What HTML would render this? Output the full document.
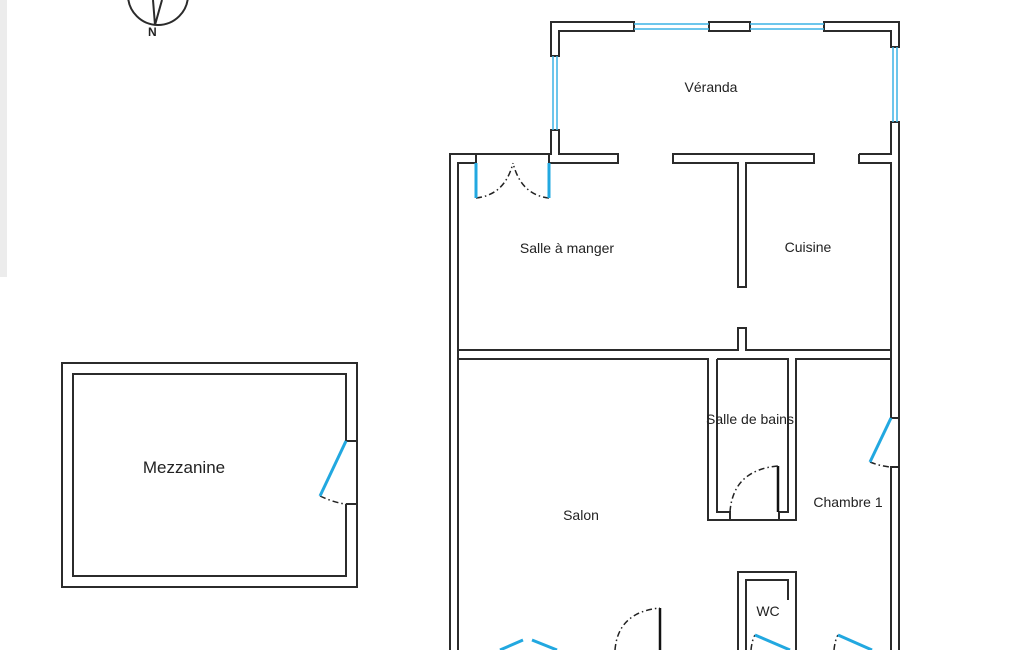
<!DOCTYPE html>
<html><head><meta charset="utf-8"><style>
html,body{margin:0;padding:0;background:#fff;width:1025px;height:650px;overflow:hidden}
svg{display:block}
text{font-family:"Liberation Sans",sans-serif;fill:#222}
</style></head><body>
<svg width="1025" height="650" viewBox="0 0 1025 650" xmlns="http://www.w3.org/2000/svg">
<rect x="0" y="0" width="7" height="277" fill="#ececec"/>
<g fill="none" stroke="#2b2b2b" stroke-width="2">
<circle cx="158" cy="-5" r="30"/>
<path d="M153 0 L155 25 L162 0"/>
<path d="M559 56 L551 56 L551 22 L634 22 L634 31 L559 31 Z" fill="#fff"/>
<rect x="709" y="22" width="41" height="9" fill="#fff"/>
<path d="M824 22 L899 22 L899 47 L891 47 L891 31 L824 31 Z" fill="#fff"/>
<path d="M549 163 L549 154 L551 154 L551 130 L559 130 L559 154 L618 154 L618 163 Z"/>
<path d="M551 154 L450 154 L450 650"/>
<path d="M476 154 L476 163 L458 163 L458 650"/>
<path d="M673 154 L814 154 L814 163 L746 163 L746 287 L738 287 L738 163 L673 163 Z"/>
<path d="M859 154 L891 154 L891 122 L899 122 L899 650"/>
<path d="M859 154 L859 163 L891 163 L891 418 L899 418"/>
<path d="M899 467 L891 467 L891 650"/>
<path d="M458 350 L738 350 L738 328 L746 328 L746 350 L891 350"/>
<path d="M458 359 L708 359 L708 520 L796 520 L796 359 L891 359"/>
<path d="M717 359 L717 512 L730 512 L730 520"/>
<path d="M717 359 L788 359 L788 512 L779 512 L779 520"/>
<path d="M738 650 L738 572 L796 572 L796 650"/>
<path d="M746 650 L746 580 L788 580 L788 600"/>
<rect x="62" y="363" width="295" height="224"/>
<path d="M346 441 L346 374 L73 374 L73 576 L346 576 L346 504"/>
<path d="M346 441 L357 441 M346 504 L357 504"/>
</g>
<g stroke="#111" stroke-width="2.5" fill="none">
<path d="M778 466 L778 512"/>
<path d="M660 608 L660 650"/>
</g>
<g stroke="#222" stroke-width="1.5" fill="none" stroke-dasharray="6,3,1.5,3">
<path d="M476 198 Q505 195 513 163"/>
<path d="M549 198 Q521 195 513 163"/>
<path d="M730 512 Q733 470 778 466"/>
<path d="M615 650 Q618 612 660 608"/>
<path d="M870 462 Q885 468 899 467"/>
<path d="M320 496 Q335 503 346 504"/>
<path d="M751 650 Q752 640 755 635"/>
<path d="M834 650 Q835 640 838 635"/>
</g>
<g stroke="#3bb4e5" stroke-width="1.5" fill="none">
<path d="M634 24 L709 24 M634 29 L709 29 M750 24 L824 24 M750 29 L824 29"/>
<path d="M893 47 L893 122 M897 47 L897 122"/>
<path d="M553 56 L553 130 M557 56 L557 130"/>
</g>
<g stroke="#22a8e0" stroke-width="3" fill="none">
<path d="M476 163 L476 198 M549 163 L549 198"/>
<path d="M891 418 L870 462"/>
<path d="M346 441 L320 496"/>
<path d="M500 650 L523 640 M532 640 L557 650"/>
<path d="M755 635 L790 650"/>
<path d="M838 635 L872 650"/>
</g>
<text x="148" y="36" font-size="12" font-weight="bold">N</text>
<g font-size="14" text-anchor="middle">
<text x="711" y="92">Véranda</text>
<text x="567" y="253">Salle à manger</text>
<text x="808" y="252">Cuisine</text>
<text x="750" y="424">Salle de bains</text>
<text x="581" y="520">Salon</text>
<text x="848" y="507">Chambre 1</text>
<text x="768" y="616">WC</text>
<text x="184" y="473" font-size="17">Mezzanine</text>
</g>
</svg>
</body></html>
